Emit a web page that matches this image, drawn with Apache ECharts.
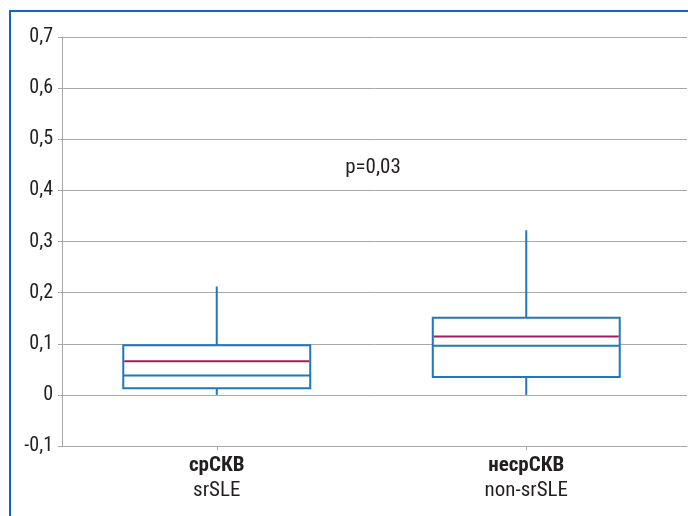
<!DOCTYPE html>
<html>
<head>
<meta charset="utf-8">
<script src="https://cdn.jsdelivr.net/npm/echarts@6/dist/echarts.min.js"></script>
<style>html,body{margin:0;padding:0;background:#fff;}#c{width:688px;height:516px;}</style>
</head>
<body>
<div id="c"></div>
<script>
const categories = ['срСКВ', 'несрСКВ'];
const subLabels = ['srSLE', 'non-srSLE'];
const minVals = [0, 0];
const q1Vals = [0.013, 0.035];
const medianVals = [0.038, 0.096];
const meanVals = [0.066, 0.114];
const q3Vals = [0.097, 0.151];
const maxVals = [0.212, 0.322];
const yMin = -0.1, yMax = 0.7, yStep = 0.1;
const pText = 'p=0,03';

const FONT = "'Liberation Sans Narrow', 'Roboto Condensed', 'Liberation Sans', sans-serif";
const BLUE = '#1f77bd';
const RED = '#a21d5c';
const GRID = '#a8a8a8';
const TXT = '#231f20';

const chart = echarts.init(document.getElementById('c'), null, {renderer: 'canvas'});

function renderItem(params, api) {
  const x = api.value(0);
  const c = v => api.coord([x, v]);
  const bw = api.size([1, 0])[0] * 0.604;
  const pMin = c(api.value(1)), pQ1 = c(api.value(2)), pMed = c(api.value(3)),
        pMean = c(api.value(4)), pQ3 = c(api.value(5)), pMax = c(api.value(6));
  const cx = pMin[0];
  const lineStyle = {stroke: BLUE, lineWidth: 2};
  return {
    type: 'group',
    children: [
      {type: 'line', shape: {x1: cx, y1: pMax[1], x2: cx, y2: pQ3[1]}, style: lineStyle},
      {type: 'line', shape: {x1: cx, y1: pQ1[1], x2: cx, y2: pMin[1]}, style: lineStyle},
      {type: 'rect', shape: {x: cx - bw / 2, y: pQ3[1], width: bw, height: pQ1[1] - pQ3[1]},
       style: {fill: '#fff', stroke: BLUE, lineWidth: 2}},
      {type: 'line', shape: {x1: cx - bw / 2, y1: pMed[1], x2: cx + bw / 2, y2: pMed[1]}, style: lineStyle},
      {type: 'line', shape: {x1: cx - bw / 2 + 1, y1: pMean[1], x2: cx + bw / 2 - 1, y2: pMean[1]},
       style: {stroke: RED, lineWidth: 2}}
    ]
  };
}

const fmt = v => Math.abs(v) < 1e-9 ? '0' : v.toFixed(1).replace('.', ',');

chart.setOption({
  animation: false,
  textStyle: {fontFamily: FONT},
  grid: [
    {left: 62, right: 1, top: 37, bottom: 70},
    {left: 62, right: 7, top: 37, bottom: 70}
  ],
  xAxis: [
    {type: 'category', gridIndex: 0, data: categories,
     axisLine: {show: true, onZero: false, lineStyle: {color: GRID, width: 1}},
     axisTick: {show: false}, axisLabel: {show: false}, splitLine: {show: false}},
    {type: 'category', gridIndex: 1, data: categories,
     axisLine: {show: false, onZero: false},
     axisTick: {show: true, alignWithLabel: true, length: 4, lineStyle: {color: GRID}},
     axisLabel: {
       margin: 7,
       formatter: (v, i) => '{b|' + v + '}\n{n|' + subLabels[i] + '}',
       rich: {
         b: {fontFamily: FONT, fontSize: 21, fontWeight: 'bold', color: TXT, lineHeight: 25},
         n: {fontFamily: FONT, fontSize: 21, color: TXT, lineHeight: 25}
       }
     }}
  ],
  yAxis: [
    {type: 'value', gridIndex: 0, min: yMin, max: yMax, interval: yStep,
     axisLine: {show: true, lineStyle: {color: GRID}},
     axisTick: {show: true, length: 4, lineStyle: {color: GRID}},
     axisLabel: {margin: 9, fontFamily: FONT, fontSize: 20, color: TXT, formatter: fmt},
     splitLine: {show: true, lineStyle: {color: GRID, width: 1}}},
    {type: 'value', gridIndex: 1, min: yMin, max: yMax, interval: yStep, show: false,
     splitLine: {show: false}}
  ],
  series: [{
    type: 'custom',
    xAxisIndex: 1, yAxisIndex: 1,
    renderItem: renderItem,
    encode: {x: 0, y: [1, 2, 3, 4, 5, 6]},
    data: categories.map((c, i) => [i, minVals[i], q1Vals[i], medianVals[i], meanVals[i], q3Vals[i], maxVals[i]]),
    z: 3
  }],
  graphic: [
    {type: 'line', shape: {x1: 9, y1: 11, x2: 688, y2: 11}, style: {stroke: '#1565b8', lineWidth: 2}, z: 10},
    {type: 'line', shape: {x1: 10, y1: 10, x2: 10, y2: 516}, style: {stroke: '#1565b8', lineWidth: 2}, z: 10},
    {type: 'text', x: 373, y: 168, style: {text: pText, fontFamily: FONT, fontSize: 21, fill: TXT,
      textAlign: 'center', textVerticalAlign: 'middle'}}
  ]
});
</script>
</body>
</html>
